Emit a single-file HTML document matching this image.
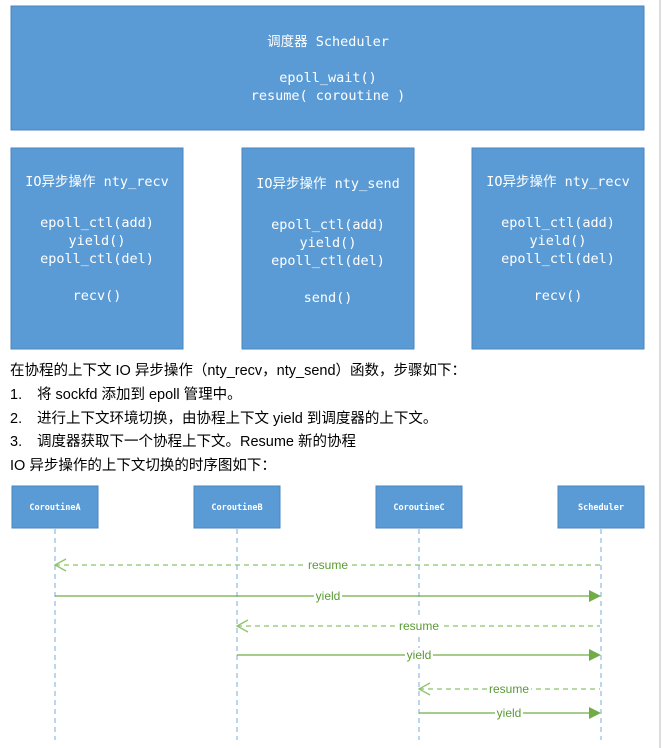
<!DOCTYPE html>
<html><head><meta charset="utf-8"><style>
body{margin:0;background:#fff;width:662px;height:748px;overflow:hidden}
svg{display:block}
</style></head><body>
<svg width="662" height="748" xmlns="http://www.w3.org/2000/svg">
<line x1="660" y1="0" x2="660" y2="748" stroke="#bbb" stroke-width="1"/>
<g fill="#5b9bd5" stroke="#4a86c0" stroke-width="1">
<rect x="11" y="6" width="633" height="124"/>
<rect x="11" y="148" width="172" height="201"/>
<rect x="242" y="148" width="172" height="201"/>
<rect x="472" y="148" width="172" height="201"/>
</g>
<g fill="#fff" font-family="'DejaVu Sans Mono','Noto Sans CJK SC',monospace" font-size="13.5" text-anchor="middle">
<text x="328" y="46">调度器 Scheduler</text>
<text x="328" y="82">epoll_wait()</text>
<text x="328" y="100">resume( coroutine )</text>
<text x="97" y="186">IO异步操作 nty_recv</text>
<text x="97" y="227">epoll_ctl(add)</text>
<text x="97" y="245">yield()</text>
<text x="97" y="263">epoll_ctl(del)</text>
<text x="97" y="300">recv()</text>
<text x="328" y="188">IO异步操作 nty_send</text>
<text x="328" y="229">epoll_ctl(add)</text>
<text x="328" y="247">yield()</text>
<text x="328" y="265">epoll_ctl(del)</text>
<text x="328" y="302">send()</text>
<text x="558" y="186">IO异步操作 nty_recv</text>
<text x="558" y="227">epoll_ctl(add)</text>
<text x="558" y="245">yield()</text>
<text x="558" y="263">epoll_ctl(del)</text>
<text x="558" y="300">recv()</text>
</g>
<g fill="#000" font-family="'Liberation Sans','Noto Sans CJK SC',sans-serif" font-size="14.5">
<text x="10" y="375">在协程的上下文 IO 异步操作（nty_recv，nty_send）函数，步骤如下：</text>
<text x="10" y="399">1.</text><text x="37" y="399">将 sockfd 添加到 epoll 管理中。</text>
<text x="10" y="423">2.</text><text x="37" y="423">进行上下文环境切换，由协程上下文 yield 到调度器的上下文。</text>
<text x="10" y="446">3.</text><text x="37" y="446">调度器获取下一个协程上下文。Resume 新的协程</text>
<text x="10" y="470">IO 异步操作的上下文切换的时序图如下：</text>
</g>
<g stroke="#8fbbe3" stroke-width="1.2" stroke-dasharray="5,4">
<line x1="55" y1="529" x2="55" y2="740"/>
<line x1="237" y1="529" x2="237" y2="740"/>
<line x1="419" y1="529" x2="419" y2="740"/>
<line x1="601" y1="529" x2="601" y2="740"/>
</g>
<g fill="#5b9bd5" stroke="#4a86c0">
<rect x="12" y="486" width="86" height="42"/>
<rect x="194" y="486" width="86" height="42"/>
<rect x="376" y="486" width="86" height="42"/>
<rect x="558" y="486" width="86" height="42"/>
</g>
<g fill="#fff" font-family="'DejaVu Sans Mono',monospace" font-size="8.5" font-weight="bold" text-anchor="middle">
<text x="55" y="510">CoroutineA</text>
<text x="237" y="510">CoroutineB</text>
<text x="419" y="510">CoroutineC</text>
<text x="601" y="510">Scheduler</text>
</g>
<g stroke="#70ad47" fill="none" stroke-width="1.3">
<line x1="55" y1="565" x2="600" y2="565" stroke-dasharray="5,4" stroke="#8cc46c"/>
<polyline points="66,559 55,565 66,571" stroke="#8cc46c"/>
<line x1="55" y1="596" x2="590" y2="596"/>
<line x1="237" y1="626" x2="600" y2="626" stroke-dasharray="5,4" stroke="#8cc46c"/>
<polyline points="248,620 237,626 248,632" stroke="#8cc46c"/>
<line x1="237" y1="655" x2="590" y2="655"/>
<line x1="419" y1="689" x2="600" y2="689" stroke-dasharray="5,4" stroke="#8cc46c"/>
<polyline points="430,683 419,689 430,695" stroke="#8cc46c"/>
<line x1="419" y1="713" x2="590" y2="713"/>
</g>
<g fill="#70ad47">
<polygon points="589,590 601,596 589,602"/>
<polygon points="589,649 601,655 589,661"/>
<polygon points="589,707 601,713 589,719"/>
</g>
<g font-family="'Liberation Sans',sans-serif" font-size="12" fill="#5a9a36" text-anchor="middle">
<rect x="306" y="558" width="44" height="14" fill="#fff"/><text x="328" y="569">resume</text>
<rect x="314" y="589" width="28" height="14" fill="#fff"/><text x="328" y="600">yield</text>
<rect x="397" y="619" width="44" height="14" fill="#fff"/><text x="419" y="630">resume</text>
<rect x="405" y="648" width="28" height="14" fill="#fff"/><text x="419" y="659">yield</text>
<rect x="487" y="682" width="44" height="14" fill="#fff"/><text x="509" y="693">resume</text>
<rect x="495" y="706" width="28" height="14" fill="#fff"/><text x="509" y="717">yield</text>
</g>
</svg>
</body></html>
